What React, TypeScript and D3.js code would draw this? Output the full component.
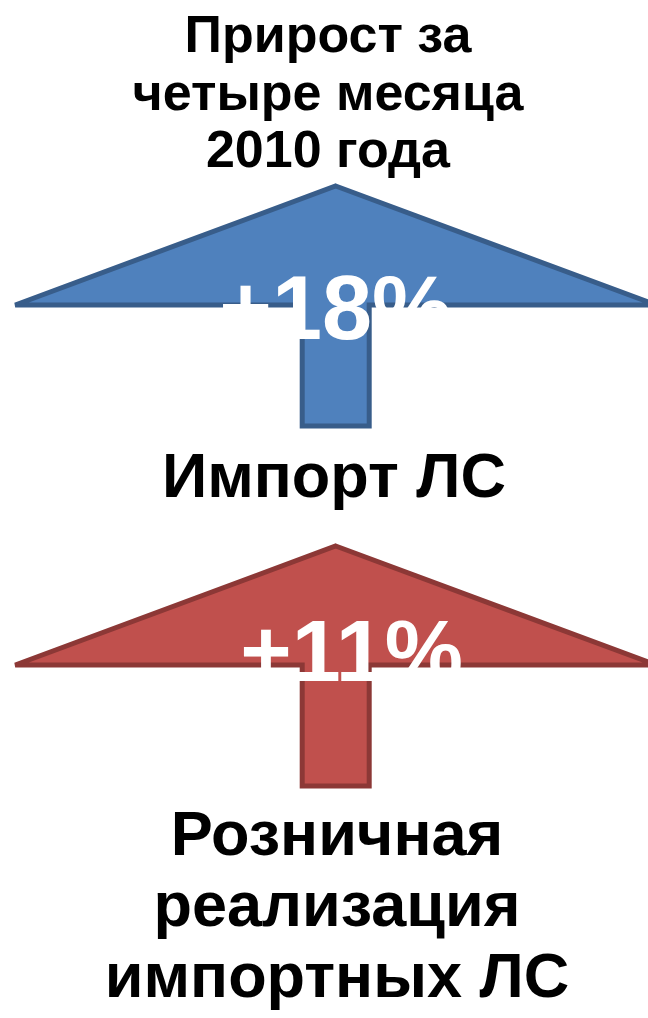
import * as d3 from "d3"

const titleLines = ["Прирост за", "четыре месяца", "2010 года"]
const categories = ["import", "retail"]
const growth = [18, 11]
const labelLines = [["Импорт ЛС"], ["Розничная", "реализация", "импортных ЛС"]]
const fills = ["#4F81BD", "#C0504D"]
const strokes = ["#385D8A", "#8C3836"]

const W = 648
const H = 1018
const FONT = "'Liberation Sans', Arial, sans-serif"

// per-arrow placement of the percent text and the caption
const pctPos = [
  { dx: 0, dy: 153, size: 90 },
  { dx: 16, dy: 135, size: 88 },
]
const capPos = [
  { x: 334, dy: 311 },
  { x: 337, dy: 309 },
]

export default function App() {
  // vertical slot of each arrow (apex y)
  const y = d3.scaleBand().domain(categories).range([186, 906]).paddingInner(0)
  const fill = d3.scaleOrdinal<string, string>().domain(categories).range(fills)
  const stroke = d3.scaleOrdinal<string, string>().domain(categories).range(strokes)
  const fmt = d3.format("+d")

  const cx = 335.7
  const half = 320.5
  const headH = 119
  const stemHalf = 33.5
  const stemH = 240

  const arrow = (top: number) =>
    d3.line()([
      [cx, top],
      [cx + half, top + headH],
      [cx + stemHalf, top + headH],
      [cx + stemHalf, top + stemH],
      [cx - stemHalf, top + stemH],
      [cx - stemHalf, top + headH],
      [cx - half, top + headH],
    ]) + "Z"

  return (
    <div style={{ position: "absolute", left: 0, top: 0 }}>
      <svg width={W} height={H} style={{ display: "block", background: "#fff" }} fontFamily={FONT} fontWeight="bold">
        {/* Title */}
        <text x={328} textAnchor="middle" fontSize={52} fill="#000">
          {titleLines.map((t, i) => (
            <tspan key={i} x={328} y={52 + i * 57.5}>
              {t}
            </tspan>
          ))}
        </text>

        {categories.map((c, i) => {
          const top = y(c) ?? 0
          return (
            <g key={c}>
              <path d={arrow(top)} fill={fill(c)} stroke={stroke(c)} strokeWidth={5} />
              <text
                x={cx + pctPos[i].dx}
                y={top + pctPos[i].dy}
                textAnchor="middle"
                fontSize={pctPos[i].size}
                fill="#fff"
              >
                {fmt(growth[i])}%
              </text>
              <text textAnchor="middle" fontSize={63} fill="#000">
                {labelLines[i].map((t, j) => (
                  <tspan key={j} x={capPos[i].x} y={top + capPos[i].dy + j * 71}>
                    {t}
                  </tspan>
                ))}
              </text>
            </g>
          )
        })}
      </svg>
    </div>
  )
}
